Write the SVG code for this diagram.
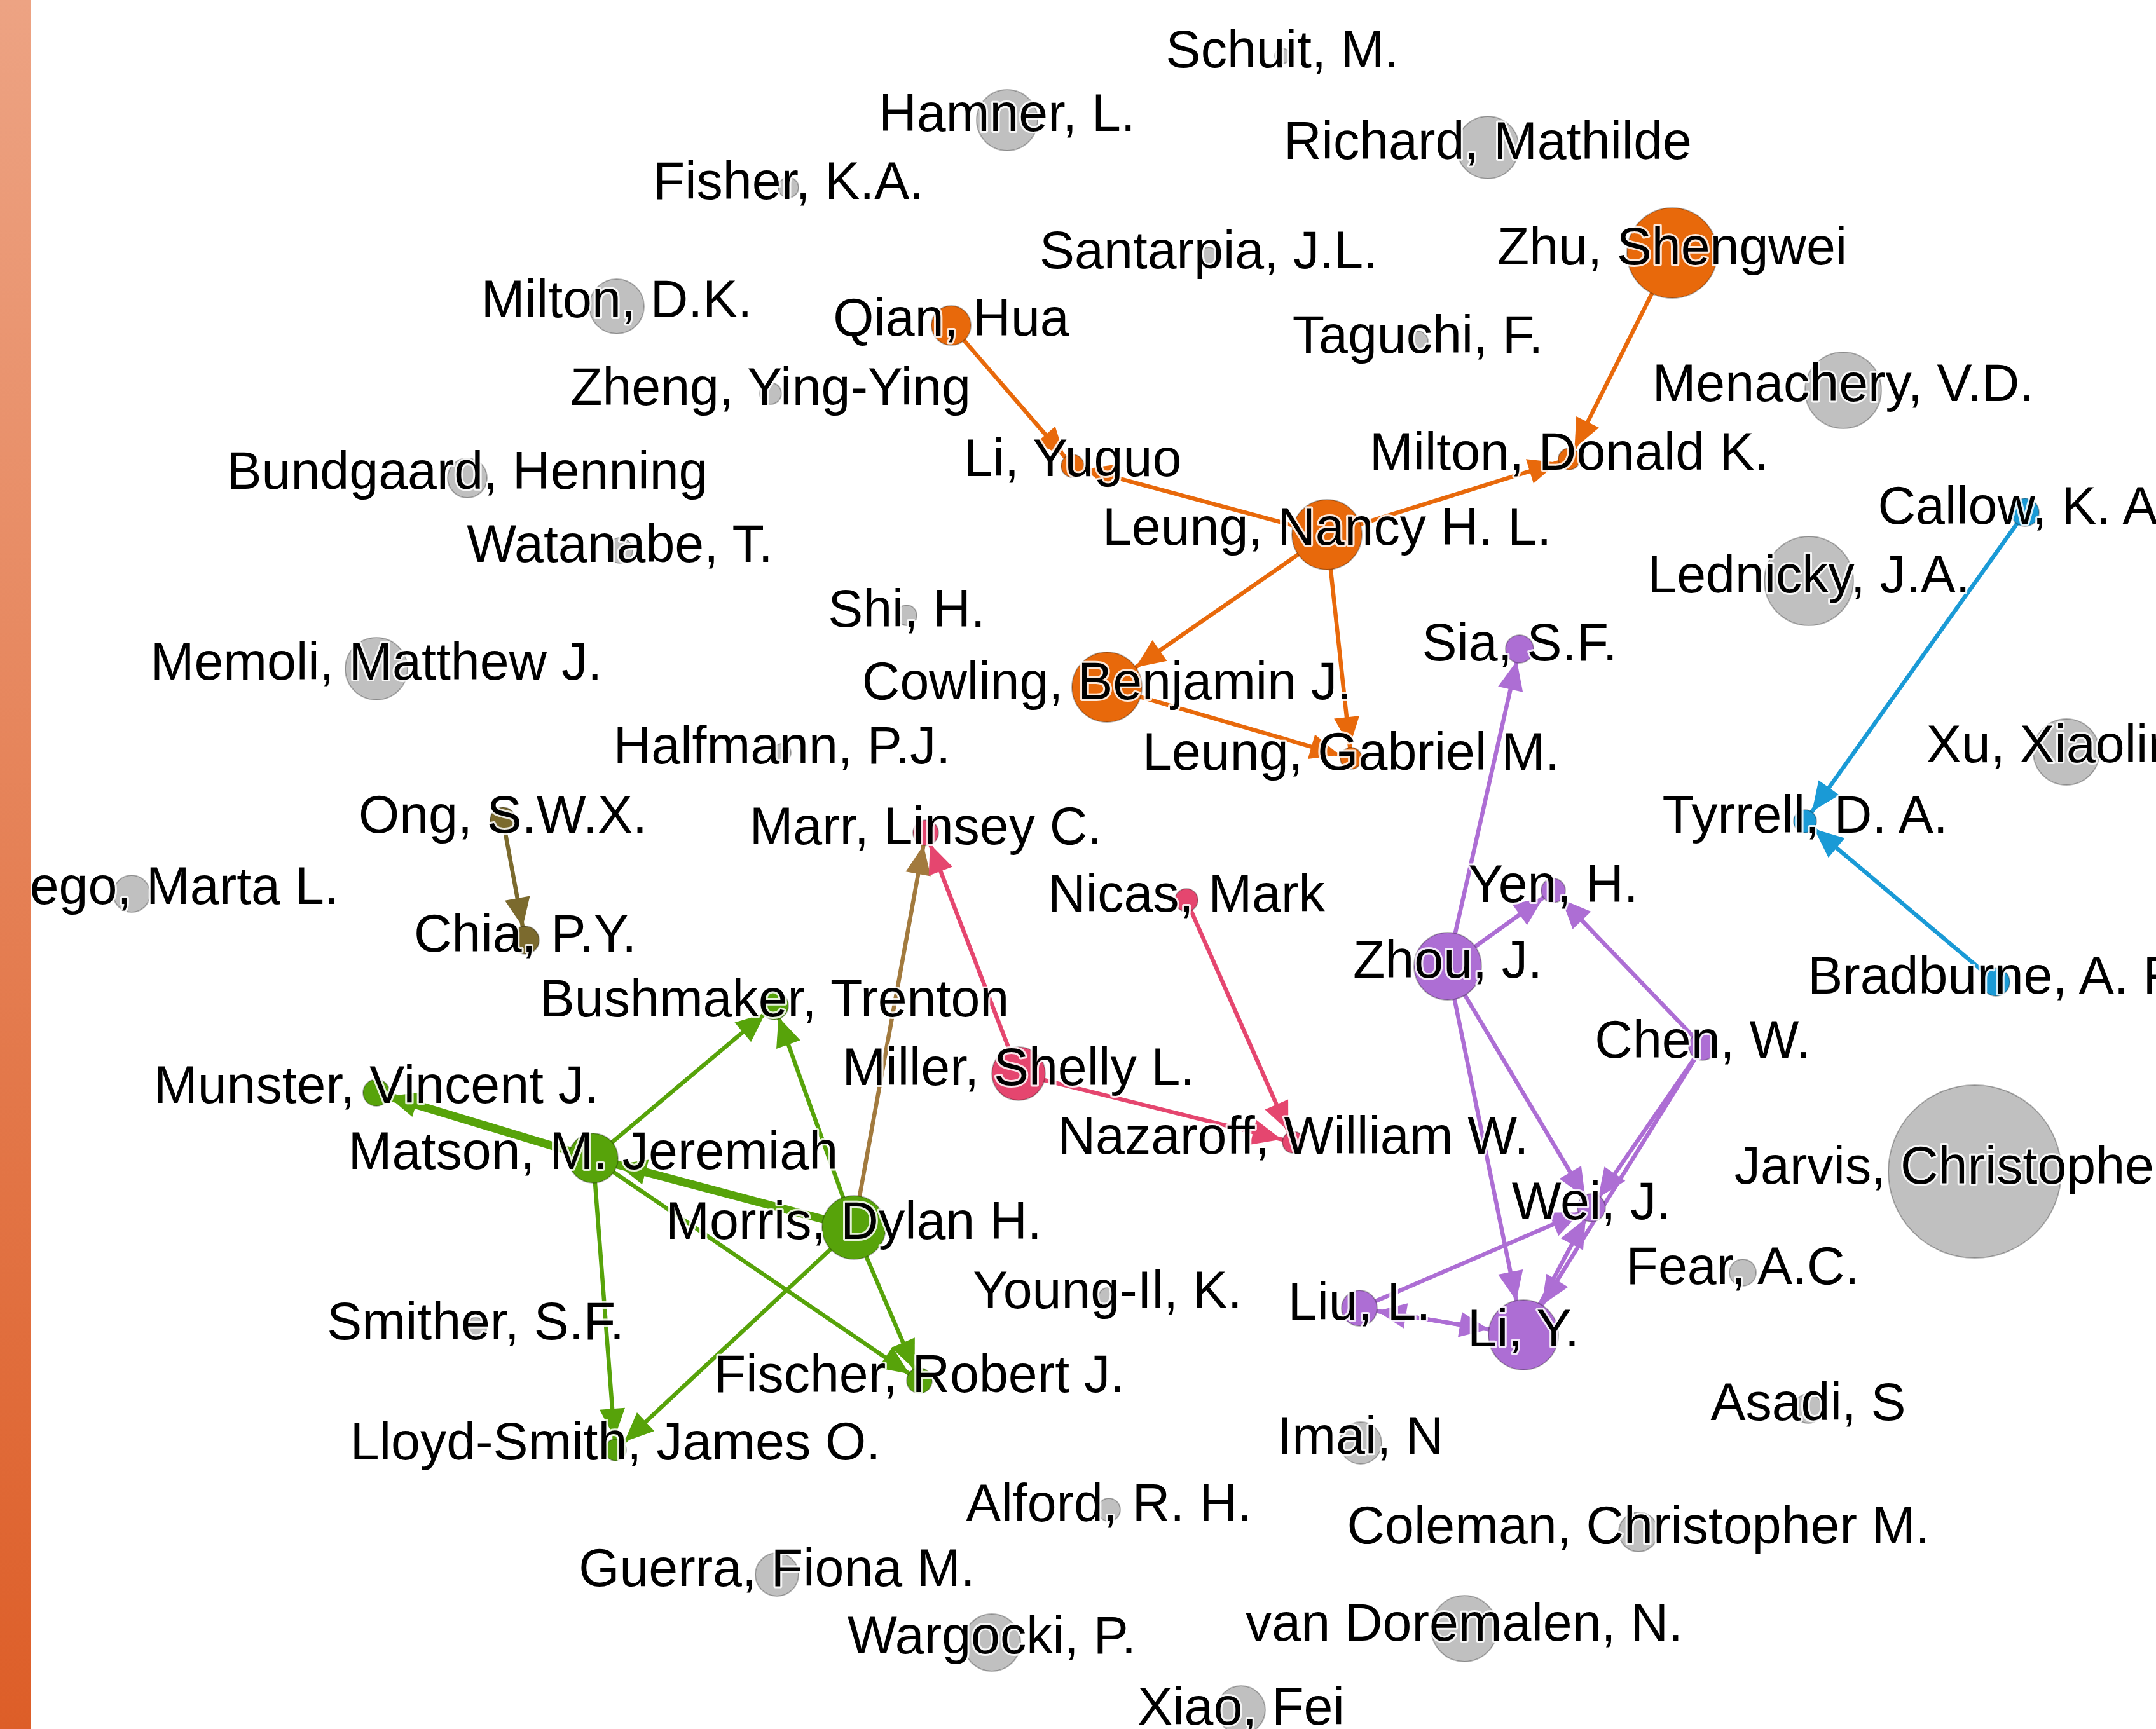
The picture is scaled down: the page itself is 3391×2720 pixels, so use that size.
<svg xmlns="http://www.w3.org/2000/svg" width="3391" height="2720" viewBox="0 0 3391 2720">
<defs>
<linearGradient id="bar" x1="0" y1="0" x2="0" y2="1">
<stop offset="0" stop-color="#EDA383"/>
<stop offset="1" stop-color="#DD5E28"/>
</linearGradient>
<marker id="o19" markerUnits="userSpaceOnUse" markerWidth="46" markerHeight="40" refX="65" refY="20" orient="auto" overflow="visible"><path d="M0,0 L46,20 L0,40 z" fill="#E8690B"/></marker>
<marker id="o55" markerUnits="userSpaceOnUse" markerWidth="46" markerHeight="40" refX="101" refY="20" orient="auto" overflow="visible"><path d="M0,0 L46,20 L0,40 z" fill="#E8690B"/></marker>
<marker id="p19" markerUnits="userSpaceOnUse" markerWidth="46" markerHeight="40" refX="65" refY="20" orient="auto" overflow="visible"><path d="M0,0 L46,20 L0,40 z" fill="#AD6ED4"/></marker>
<marker id="p28" markerUnits="userSpaceOnUse" markerWidth="46" markerHeight="40" refX="74" refY="20" orient="auto" overflow="visible"><path d="M0,0 L46,20 L0,40 z" fill="#AD6ED4"/></marker>
<marker id="p55" markerUnits="userSpaceOnUse" markerWidth="46" markerHeight="40" refX="101" refY="20" orient="auto" overflow="visible"><path d="M0,0 L46,20 L0,40 z" fill="#AD6ED4"/></marker>
<marker id="b19" markerUnits="userSpaceOnUse" markerWidth="46" markerHeight="40" refX="65" refY="20" orient="auto" overflow="visible"><path d="M0,0 L46,20 L0,40 z" fill="#1A9AD6"/></marker>
<marker id="ol19" markerUnits="userSpaceOnUse" markerWidth="46" markerHeight="40" refX="67" refY="20" orient="auto" overflow="visible"><path d="M0,0 L46,20 L0,40 z" fill="#7B6A2E"/></marker>
<marker id="br19" markerUnits="userSpaceOnUse" markerWidth="46" markerHeight="40" refX="66" refY="20" orient="auto" overflow="visible"><path d="M0,0 L46,20 L0,40 z" fill="#A27A3E"/></marker>
<marker id="pk19" markerUnits="userSpaceOnUse" markerWidth="46" markerHeight="40" refX="65" refY="20" orient="auto" overflow="visible"><path d="M0,0 L46,20 L0,40 z" fill="#E5466F"/></marker>
<marker id="g19" markerUnits="userSpaceOnUse" markerWidth="46" markerHeight="40" refX="65" refY="20" orient="auto" overflow="visible"><path d="M0,0 L46,20 L0,40 z" fill="#57A30A"/></marker>
<marker id="g39" markerUnits="userSpaceOnUse" markerWidth="46" markerHeight="40" refX="85" refY="20" orient="auto" overflow="visible"><path d="M0,0 L46,20 L0,40 z" fill="#57A30A"/></marker>
</defs>
<style>
text{font-family:"Liberation Sans",Arial,sans-serif;font-size:82.5px;fill:#000;text-anchor:middle;stroke:#fff;stroke-width:6px;stroke-opacity:0.85;stroke-linejoin:round;paint-order:stroke}
circle{stroke:rgba(0,0,0,0.28);stroke-width:2}
.gr{fill:#C0C0C0}
.or{fill:#E8690B}
.pu{fill:#AD6ED4}
.bl{fill:#1A9AD6}
.ol{fill:#7B6A2E}
.pk{fill:#E5466F}
.gn{fill:#57A30A}
line{fill:none;stroke-width:6.5}
.eo{stroke:#E8690B}
.ep{stroke:#AD6ED4}
.eb{stroke:#1A9AD6}
.eol{stroke:#7B6A2E}
.ebr{stroke:#A27A3E}
.epk{stroke:#E5466F}
.eg{stroke:#57A30A}
.thick{stroke-width:13}
</style>
<rect width="3391" height="2720" fill="#fff"/>
<g id="edges">
<line class="eo" x1="1496" y1="512" x2="1687" y2="733" marker-end="url(#o19)"/>
<line class="eo" x1="2087" y1="841" x2="1687" y2="733" marker-end="url(#o19)"/>
<line class="eo" x1="2087" y1="841" x2="2468" y2="722" marker-end="url(#o19)"/>
<line class="eo" x1="2630" y1="398" x2="2468" y2="722" marker-end="url(#o19)"/>
<line class="eo" x1="2087" y1="841" x2="1741" y2="1081" marker-end="url(#o55)"/>
<line class="eo" x1="2087" y1="841" x2="2125" y2="1193" marker-end="url(#o19)"/>
<line class="eo" x1="1741" y1="1081" x2="2125" y2="1193" marker-end="url(#o19)"/>
<line class="ep" x1="2277" y1="1520" x2="2390" y2="1021" marker-end="url(#p19)"/>
<line class="ep" x1="2277" y1="1520" x2="2443" y2="1401" marker-end="url(#p19)"/>
<line class="ep" x1="2678" y1="1646" x2="2443" y2="1401" marker-end="url(#p19)"/>
<line class="ep" x1="2277" y1="1520" x2="2503" y2="1900" marker-end="url(#p19)"/>
<line class="ep" x1="2277" y1="1520" x2="2396" y2="2100" marker-end="url(#p55)"/>
<line class="ep" x1="2678" y1="1646" x2="2503" y2="1900" marker-end="url(#p19)"/>
<line class="ep" x1="2678" y1="1646" x2="2396" y2="2100" marker-end="url(#p55)"/>
<line class="ep" x1="2396" y1="2100" x2="2503" y2="1900" marker-end="url(#p19)"/>
<line class="ep" x1="2138" y1="2058" x2="2503" y2="1900" marker-end="url(#p19)"/>
<line class="ep" x1="2138" y1="2058" x2="2396" y2="2100" marker-end="url(#p55)"/>
<line class="ep" x1="2396" y1="2100" x2="2138" y2="2058" marker-end="url(#p28)"/>
<line class="eb" x1="3185" y1="806" x2="2839" y2="1292" marker-end="url(#b19)"/>
<line class="eb" x1="3139" y1="1545" x2="2839" y2="1292" marker-end="url(#b19)"/>
<line class="eol" x1="791" y1="1290" x2="826" y2="1479" marker-end="url(#ol19)"/>
<line class="ebr" x1="1343" y1="1931" x2="1456" y2="1310" marker-end="url(#br19)"/>
<line class="epk" x1="1602" y1="1689" x2="1456" y2="1310" marker-end="url(#pk19)"/>
<line class="epk" x1="1602" y1="1689" x2="2034" y2="1797" marker-end="url(#pk19)"/>
<line class="epk" x1="1866" y1="1416" x2="2034" y2="1797" marker-end="url(#pk19)"/>
<line class="eg thick" x1="933" y1="1822" x2="592" y2="1719" marker-end="url(#g19)"/>
<line class="eg" x1="933" y1="1822" x2="1218" y2="1582" marker-end="url(#g19)"/>
<line class="eg" x1="1343" y1="1931" x2="1218" y2="1582" marker-end="url(#g19)"/>
<line class="eg thick" x1="1343" y1="1931" x2="933" y2="1822" marker-end="url(#g39)"/>
<line class="eg" x1="933" y1="1822" x2="1446" y2="2172" marker-end="url(#g19)"/>
<line class="eg" x1="1343" y1="1931" x2="1446" y2="2172" marker-end="url(#g19)"/>
<line class="eg" x1="933" y1="1822" x2="968" y2="2281" marker-end="url(#g19)"/>
<line class="eg" x1="1343" y1="1931" x2="968" y2="2281" marker-end="url(#g19)"/>
</g>
<g id="node-schuit"><circle class="gr" cx="2017" cy="88" r="12"/><text x="2017" y="106">Schuit, M.</text></g>
<g id="node-hamner"><circle class="gr" cx="1584" cy="189" r="48"/><text x="1584" y="206">Hamner, L.</text></g>
<g id="node-richard"><circle class="gr" cx="2340" cy="232" r="49"/><text x="2340" y="250">Richard, Mathilde</text></g>
<g id="node-fisher"><circle class="gr" cx="1240" cy="295" r="16"/><text x="1240" y="313">Fisher, K.A.</text></g>
<g id="node-santarpia"><circle class="gr" cx="1901" cy="404" r="15"/><text x="1901" y="422">Santarpia, J.L.</text></g>
<g id="node-milton-dk"><circle class="gr" cx="970" cy="482" r="43"/><text x="970" y="499">Milton, D.K.</text></g>
<g id="node-taguchi"><circle class="gr" cx="2230" cy="537" r="16"/><text x="2230" y="555">Taguchi, F.</text></g>
<g id="node-menachery"><circle class="gr" cx="2899" cy="614" r="60"/><text x="2899" y="631">Menachery, V.D.</text></g>
<g id="node-zheng"><circle class="gr" cx="1212" cy="619" r="17"/><text x="1212" y="637">Zheng, Ying-Ying</text></g>
<g id="node-bundgaard"><circle class="gr" cx="735" cy="752" r="31"/><text x="735" y="769">Bundgaard, Henning</text></g>
<g id="node-watanabe"><circle class="gr" cx="975" cy="866" r="20"/><text x="975" y="884">Watanabe, T.</text></g>
<g id="node-lednicky"><circle class="gr" cx="2845" cy="914" r="70"/><text x="2845" y="932">Lednicky, J.A.</text></g>
<g id="node-shi"><circle class="gr" cx="1426" cy="968" r="16"/><text x="1426" y="986">Shi, H.</text></g>
<g id="node-memoli"><circle class="gr" cx="592" cy="1052" r="49"/><text x="592" y="1069">Memoli, Matthew J.</text></g>
<g id="node-halfmann"><circle class="gr" cx="1230" cy="1184" r="14"/><text x="1230" y="1201">Halfmann, P.J.</text></g>
<g id="node-xu"><circle class="gr" cx="3250" cy="1183" r="52"/><text x="3250" y="1199">Xu, Xiaoling</text></g>
<g id="node-dediego"><circle class="gr" cx="207" cy="1406" r="29"/><text x="198" y="1422">DeDiego, Marta L.</text></g>
<g id="node-jarvis"><circle class="gr" cx="3106" cy="1843" r="136"/><text x="3106" y="1862">Jarvis, Christopher I.</text></g>
<g id="node-fear"><circle class="gr" cx="2741" cy="2002" r="21"/><text x="2741" y="2020">Fear, A.C.</text></g>
<g id="node-young"><circle class="gr" cx="1742" cy="2040" r="14"/><text x="1742" y="2058">Young-Il, K.</text></g>
<g id="node-smither"><circle class="gr" cx="748" cy="2090" r="17"/><text x="748" y="2107">Smither, S.F.</text></g>
<g id="node-asadi"><circle class="gr" cx="2844" cy="2216" r="23"/><text x="2844" y="2234">Asadi, S</text></g>
<g id="node-imai"><circle class="gr" cx="2140" cy="2270" r="33"/><text x="2140" y="2287">Imai, N</text></g>
<g id="node-alford"><circle class="gr" cx="1744" cy="2375" r="18"/><text x="1744" y="2393">Alford, R. H.</text></g>
<g id="node-coleman"><circle class="gr" cx="2577" cy="2410" r="31"/><text x="2577" y="2428">Coleman, Christopher M.</text></g>
<g id="node-guerra"><circle class="gr" cx="1222" cy="2477" r="34"/><text x="1222" y="2495">Guerra, Fiona M.</text></g>
<g id="node-wargocki"><circle class="gr" cx="1560" cy="2584" r="45"/><text x="1560" y="2601">Wargocki, P.</text></g>
<g id="node-vandoremalen"><circle class="gr" cx="2303" cy="2562" r="52"/><text x="2303" y="2581">van Doremalen, N.</text></g>
<g id="node-xiao"><circle class="gr" cx="1952" cy="2690" r="38"/><text x="1952" y="2713">Xiao, Fei</text></g>
<g id="node-zhu"><circle class="or" cx="2630" cy="398" r="71"/><text x="2630" y="416">Zhu, Shengwei</text></g>
<g id="node-qian"><circle class="or" cx="1496" cy="512" r="31"/><text x="1496" y="528">Qian, Hua</text></g>
<g id="node-li-yuguo"><circle class="or" cx="1687" cy="733" r="18"/><text x="1687" y="749">Li, Yuguo</text></g>
<g id="node-milton-donald"><circle class="or" cx="2468" cy="722" r="17"/><text x="2468" y="739">Milton, Donald K.</text></g>
<g id="node-leung-nancy"><circle class="or" cx="2087" cy="841" r="55"/><text x="2087" y="857">Leung, Nancy H. L.</text></g>
<g id="node-cowling"><circle class="or" cx="1741" cy="1081" r="55"/><text x="1741" y="1100">Cowling, Benjamin J.</text></g>
<g id="node-leung-gabriel"><circle class="or" cx="2125" cy="1193" r="17"/><text x="2125" y="1211">Leung, Gabriel M.</text></g>
<g id="node-sia"><circle class="pu" cx="2390" cy="1021" r="22"/><text x="2390" y="1039">Sia, S.F.</text></g>
<g id="node-yen"><circle class="pu" cx="2443" cy="1401" r="19"/><text x="2443" y="1419">Yen, H.</text></g>
<g id="node-zhou"><circle class="pu" cx="2277" cy="1520" r="53"/><text x="2277" y="1538">Zhou, J.</text></g>
<g id="node-chen"><circle class="pu" cx="2678" cy="1646" r="22"/><text x="2678" y="1664">Chen, W.</text></g>
<g id="node-wei"><circle class="pu" cx="2503" cy="1900" r="22"/><text x="2503" y="1918">Wei, J.</text></g>
<g id="node-liu"><circle class="pu" cx="2138" cy="2058" r="28"/><text x="2138" y="2076">Liu, L.</text></g>
<g id="node-li-y"><circle class="pu" cx="2396" cy="2100" r="55"/><text x="2396" y="2118">Li, Y.</text></g>
<g id="node-callow"><circle class="bl" cx="3185" cy="806" r="22"/><text x="3185" y="824">Callow, K. A.</text></g>
<g id="node-tyrrell"><circle class="bl" cx="2839" cy="1292" r="18"/><text x="2839" y="1310">Tyrrell, D. A.</text></g>
<g id="node-bradburne"><circle class="bl" cx="3139" cy="1545" r="22"/><text x="3139" y="1563">Bradburne, A. F.</text></g>
<g id="node-ong"><circle class="ol" cx="791" cy="1290" r="20"/><text x="791" y="1310">Ong, S.W.X.</text></g>
<g id="node-chia"><circle class="ol" cx="826" cy="1479" r="22"/><text x="826" y="1497">Chia, P.Y.</text></g>
<g id="node-marr"><circle class="pk" cx="1456" cy="1310" r="20"/><text x="1456" y="1328">Marr, Linsey C.</text></g>
<g id="node-nicas"><circle class="pk" cx="1866" cy="1416" r="18"/><text x="1866" y="1434">Nicas, Mark</text></g>
<g id="node-miller"><circle class="pk" cx="1602" cy="1689" r="42"/><text x="1602" y="1707">Miller, Shelly L.</text></g>
<g id="node-nazaroff"><circle class="pk" cx="2034" cy="1797" r="17"/><text x="2034" y="1815">Nazaroff, William W.</text></g>
<g id="node-bushmaker"><circle class="gn" cx="1218" cy="1582" r="22"/><text x="1218" y="1599">Bushmaker, Trenton</text></g>
<g id="node-munster"><circle class="gn" cx="592" cy="1719" r="21"/><text x="592" y="1735">Munster, Vincent J.</text></g>
<g id="node-matson"><circle class="gn" cx="933" cy="1822" r="39"/><text x="933" y="1839">Matson, M. Jeremiah</text></g>
<g id="node-morris"><circle class="gn" cx="1343" cy="1931" r="50"/><text x="1343" y="1949">Morris, Dylan H.</text></g>
<g id="node-fischer"><circle class="gn" cx="1446" cy="2172" r="20"/><text x="1446" y="2190">Fischer, Robert J.</text></g>
<g id="node-lloyd-smith"><circle class="gn" cx="968" cy="2281" r="17"/><text x="968" y="2296">Lloyd-Smith, James O.</text></g>
<rect id="side-bar" x="0" y="0" width="48" height="2720" fill="url(#bar)"/>
</svg>
